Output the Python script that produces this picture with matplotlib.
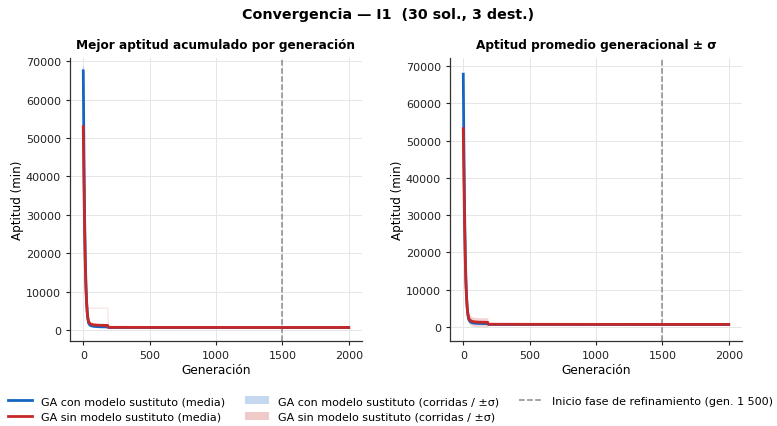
import matplotlib
matplotlib.use("Agg")
import matplotlib.pyplot as plt
from matplotlib.lines import Line2D
from matplotlib.patches import Patch

plt.rcParams['font.family'] = ['DejaVu Sans']

# --- data -----------------------------------------------------------------
# sampled generations (points where the curves change noticeably)
gens = [0, 5, 10, 15, 20, 25, 30, 35, 40, 50, 60, 80, 120, 184, 190, 500, 1000, 1500, 2000]

# best-so-far fitness, mean over runs
best_con_mean = [67500, 46000, 30000, 19000, 12000, 7500, 4500, 2800, 1800, 1300, 1100, 950, 850, 800, 650, 640, 630, 630, 630]
best_sin_mean = [53000, 38000, 26000, 17000, 11000, 7000, 4500, 3000, 2200, 1700, 1500, 1350, 1250, 1200, 700, 680, 670, 660, 660]

# individual runs (best-so-far)
runs_con = [
    [68500, 47000, 31000, 20000, 13000, 8000, 5000, 3200, 2500, 1800, 1400, 1100, 900, 850, 650, 640, 630, 630, 630],
    [66000, 45000, 29000, 18000, 11000, 7000, 4000, 2600, 1600, 1100, 950, 850, 780, 760, 640, 630, 620, 620, 620],
    [67800, 46500, 30500, 19500, 12500, 8500, 5500, 3500, 2300, 1500, 1200, 1000, 900, 820, 660, 650, 640, 640, 640],
]
runs_sin = [
    [54000, 39000, 27000, 18000, 12000, 8000, 6000, 5700, 5700, 5700, 5700, 5700, 5700, 5700, 720, 700, 690, 680, 680],
    [52000, 37000, 25000, 16000, 10000, 6500, 4000, 2500, 1800, 1300, 1100, 1000, 950, 900, 690, 670, 660, 650, 650],
    [53000, 38000, 26000, 17000, 11000, 7000, 4200, 2800, 2000, 1500, 1300, 1200, 1150, 1100, 700, 680, 670, 660, 660],
]

# generational average fitness: mean and standard deviation
avg_con_mean = [67800, 47000, 31000, 20000, 12500, 8000, 5000, 3200, 2100, 1500, 1250, 1050, 950, 900, 680, 670, 660, 660, 660]
avg_con_std = [900, 1500, 2000, 2200, 2000, 1600, 1200, 900, 600, 400, 300, 250, 200, 200, 60, 50, 50, 50, 50]
avg_sin_mean = [53200, 39000, 27000, 18000, 11500, 7500, 5000, 3500, 2500, 1900, 1600, 1400, 1300, 1250, 750, 720, 710, 700, 700]
avg_sin_std = [1500, 2500, 3000, 2800, 2400, 2000, 1800, 1600, 1500, 1400, 1300, 1200, 1200, 1200, 100, 80, 80, 80, 80]

refine_gen = 1500
x_ticks = [0, 500, 1000, 1500, 2000]

# --- styling ----------------------------------------------------------------
c_con = '#1565c0'
c_sin = '#c62828'
c_ref = '#8a8a8a'

fig = plt.figure(figsize=(7.77, 4.27), dpi=100)
ax1 = fig.add_axes([70 / 777, 1 - 342 / 427, 292 / 777, 283 / 427])
ax2 = fig.add_axes([450 / 777, 1 - 342 / 427, 292 / 777, 283 / 427])

fig.suptitle('Convergencia — I1  (30 sol., 3 dest.)', fontsize=10.3,
             fontweight='bold', y=1 - 15 / 427, va='center')


def style(ax, title):
    ax.set_title(title, fontsize=8.7, fontweight='bold', pad=7)
    ax.set_xlabel('Generación', fontsize=8.7, labelpad=2)
    ax.set_ylabel('Aptitud (min)', fontsize=8.6, labelpad=1)
    ax.spines['top'].set_visible(False)
    ax.spines['right'].set_visible(False)
    for s in ('left', 'bottom'):
        ax.spines[s].set_color('#333333')
        ax.spines[s].set_linewidth(0.9)
    ax.grid(True, color='#e6e6e6', linewidth=0.7)
    ax.set_axisbelow(True)
    ax.tick_params(labelsize=8, length=3, width=0.8, colors='#222222')
    ax.set_xticks(x_ticks)
    ax.set_xlim(-100, 2100)
    ax.axvline(refine_gen, color=c_ref, linestyle='--', linewidth=1.1, zorder=1)


# left: best-so-far per generation
for r in runs_con:
    ax1.plot(gens, r, color=c_con, alpha=0.2, linewidth=0.8)
for r in runs_sin:
    ax1.plot(gens, r, color=c_sin, alpha=0.15, linewidth=0.8)
ax1.plot(gens, best_con_mean, color=c_con, linewidth=2)
ax1.plot(gens, best_sin_mean, color=c_sin, linewidth=2)
style(ax1, 'Mejor aptitud acumulado por generación')
ax1.set_ylim(-2860, 70850)

# right: generational average ± std
lo_c = [m - s for m, s in zip(avg_con_mean, avg_con_std)]
hi_c = [m + s for m, s in zip(avg_con_mean, avg_con_std)]
lo_s = [m - s for m, s in zip(avg_sin_mean, avg_sin_std)]
hi_s = [m + s for m, s in zip(avg_sin_mean, avg_sin_std)]
ax2.fill_between(gens, lo_c, hi_c, color=c_con, alpha=0.25, linewidth=0)
ax2.fill_between(gens, lo_s, hi_s, color=c_sin, alpha=0.2, linewidth=0)
ax2.plot(gens, avg_con_mean, color=c_con, linewidth=2)
ax2.plot(gens, avg_sin_mean, color=c_sin, linewidth=2)
style(ax2, 'Aptitud promedio generacional ± σ')
ax2.set_ylim(-3750, 72140)

handles = [
    Line2D([], [], color=c_con, linewidth=2, label='GA con modelo sustituto (media)'),
    Line2D([], [], color=c_sin, linewidth=2, label='GA sin modelo sustituto (media)'),
    Patch(facecolor=c_con, alpha=0.25, label='GA con modelo sustituto (corridas / ±σ)'),
    Patch(facecolor=c_sin, alpha=0.25, label='GA sin modelo sustituto (corridas / ±σ)'),
    Line2D([], [], color=c_ref, linestyle='--', linewidth=1.1,
           label='Inicio fase de refinamiento (gen. 1 500)'),
]
fig.legend(handles=handles, loc='center', ncol=3, frameon=False, fontsize=8,
           bbox_to_anchor=(0.5 + 2 / 777, 1 - 410 / 427), columnspacing=1.75,
           handlelength=2.2, labelspacing=0.5, borderaxespad=0, borderpad=0)

fig.savefig('out.png', dpi=100)
